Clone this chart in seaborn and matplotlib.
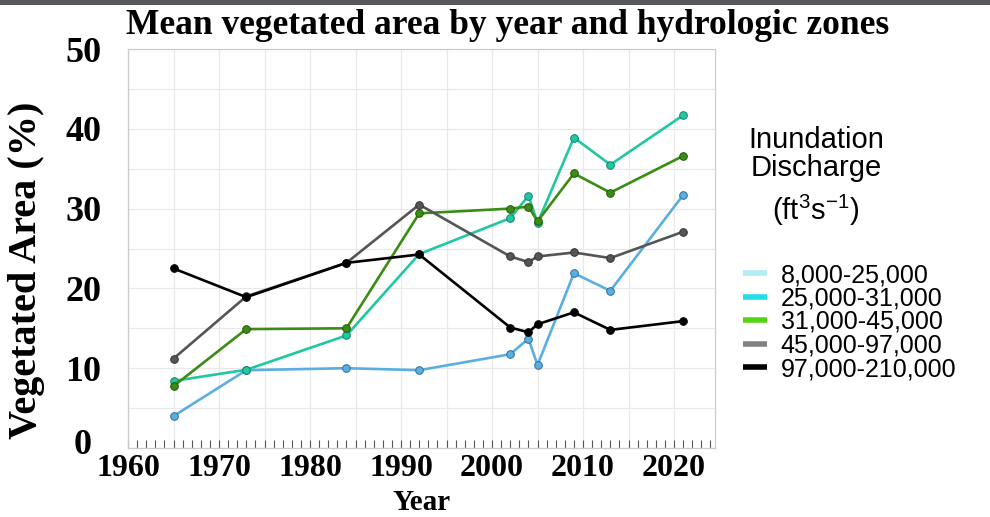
import matplotlib
matplotlib.use("Agg")
import matplotlib.pyplot as plt
import matplotlib.transforms as mtransforms
import seaborn as sns
import pandas as pd
from matplotlib.lines import Line2D
from matplotlib.patches import Rectangle
from matplotlib.ticker import MultipleLocator

# ---------------- data ----------------
years = [1965, 1973, 1984, 1992, 2002, 2004, 2005, 2009, 2013, 2021]
zones = ["8,000-25,000", "25,000-31,000", "31,000-45,000",
         "45,000-97,000", "97,000-210,000"]
z8_25 = [4.0, 9.75, 10.0, 9.75, 11.75, 13.7, 10.4, 21.9, 19.7, 31.7]
z25_31 = [8.4, 9.8, 14.1, 24.3, 28.8, 31.6, 28.2, 38.9, 35.5, 41.7]
z31_45 = [7.75, 14.9, 15.0, 29.4, 30.0, 30.25, 28.4, 34.4, 32.0, 36.6]
z45_97 = [11.2, 19.0, 23.2, 30.5, 24.0, 23.3, 24.0, 24.5, 23.8, 27.1]
z97_210 = [22.5, 18.9, 23.2, 24.25, 15.1, 14.5, 15.5, 17.0, 14.8, 15.9]
xtick_labels = ["1960", "1970", "1980", "1990", "2000", "2010", "2020"]
ytick_labels = ["0", "10", "20", "30", "40", "50"]

line_colors = ["#5aaee0", "#1fc8a0", "#3a8c12", "#555555", "#000000"]
edge_colors = ["#2f6f99", "#17806a", "#24560b", "#333333", "#000000"]
legend_colors = ["#b0eef6", "#22dde8", "#55d414", "#808080", "#000000"]

series = [z8_25, z25_31, z31_45, z45_97, z97_210]
rows = []
for zname, vals in zip(zones, series):
    for y, v in zip(years, vals):
        rows.append({"Year": y, "Area": v, "Zone": zname})
df = pd.DataFrame(rows)

# ---------------- figure ----------------
sns.set_style("white")
plt.rcParams["font.family"] = ["Liberation Serif", "DejaVu Serif"]
plt.rcParams["text.color"] = "black"
plt.rcParams["axes.labelcolor"] = "black"
plt.rcParams["xtick.color"] = "black"
plt.rcParams["ytick.color"] = "black"
plt.rcParams["mathtext.fontset"] = "custom"
plt.rcParams["mathtext.rm"] = "Liberation Sans"
plt.rcParams["mathtext.it"] = "Liberation Sans"

fig = plt.figure(figsize=(9.9, 5.17), dpi=100)
ax = fig.add_axes([128 / 990, 1 - 448 / 517, (715 - 128) / 990, (448 - 49) / 517])

# top dark bar
fig.patches.append(Rectangle((0, 1 - 5 / 517), 1, 5 / 517, transform=fig.transFigure,
                             facecolor="#58585c", edgecolor="none", zorder=0))

for i, zname in enumerate(zones):
    sub = df[df["Zone"] == zname]
    sns.lineplot(data=sub, x="Year", y="Area", ax=ax, color=line_colors[i],
                 linewidth=1.9, marker="o", markersize=5.5,
                 markerfacecolor=line_colors[i], markeredgecolor=edge_colors[i],
                 markeredgewidth=0.7, legend=False, zorder=3 + i)

ax.set_xlim(1960, 2024.5)
ax.set_ylim(0, 50)

# grid
ax.set_xticks([1960, 1965, 1970, 1975, 1980, 1985, 1990, 1995, 2000, 2005, 2010, 2015, 2020])
ax.xaxis.set_minor_locator(MultipleLocator(1))
ax.set_yticks([0, 5, 10, 15, 20, 25, 30, 35, 40, 45, 50])
ax.grid(True, which="major", color="#e9e9e9", linewidth=0.9, zorder=0)
ax.set_axisbelow(True)

xt = [int(t) for t in xtick_labels]
ax.set_xticklabels([str(int(t)) if int(t) in xt else "" for t in ax.get_xticks()],
                   fontsize=23, fontweight="bold")
yt = [int(t) for t in ytick_labels]
ax.set_yticklabels([str(int(t)) if int(t) in yt else "" for t in ax.get_yticks()],
                   fontsize=26, fontweight="bold")

ax.tick_params(axis="x", which="both", direction="in", length=6, width=0.8,
               color="#555555", pad=4, bottom=True, labelcolor="black")
ax.tick_params(axis="y", which="both", length=0, pad=19, labelcolor="black")

# the "0" label sits a little up and left in the reference
zero_lbl = ax.get_yticklabels()[0]
zero_lbl.set_transform(zero_lbl.get_transform() +
                       mtransforms.ScaledTranslation(-10 / 100, 6 / 100, fig.dpi_scale_trans))

for s in ax.spines.values():
    s.set_color("#cccccc")
    s.set_linewidth(0.9)

ax.set_xlabel("Year", fontsize=21, fontweight="bold", labelpad=5, color="black")
ax.set_ylabel("Vegetated Area (%)", fontsize=29, fontweight="bold", color="black")
ax.yaxis.set_label_coords((45 - 128) / 587, (448 - 270) / 399)

fig.text(508 / 990, 1 - 25 / 517, "Mean vegetated area by year and hydrologic zones",
         ha="center", va="center", fontsize=25.5, fontweight="bold", color="black")

# legend title
sans = ["Liberation Sans", "DejaVu Sans"]
for ty, txt in [(140, "Inundation"), (168, "Discharge"), (210, "(ft$^{3}$s$^{-1}$)")]:
    fig.text(816 / 990, 1 - ty / 517, txt, ha="center", va="center",
             fontsize=21, family=sans, color="black")

handles = [Line2D([0], [0], color=c, linewidth=4, solid_capstyle="butt")
           for c in legend_colors]
leg = ax.legend(handles, zones, loc="upper left",
                bbox_to_anchor=(743 / 990, 1 - 263 / 517),
                bbox_transform=fig.transFigure, frameon=False,
                prop={"family": sans, "size": 18}, handlelength=0.95,
                handletextpad=0.55, labelspacing=-0.02, borderaxespad=0,
                borderpad=0)
for t in leg.get_texts():
    t.set_color("black")

fig.savefig("out.png", dpi=100)
